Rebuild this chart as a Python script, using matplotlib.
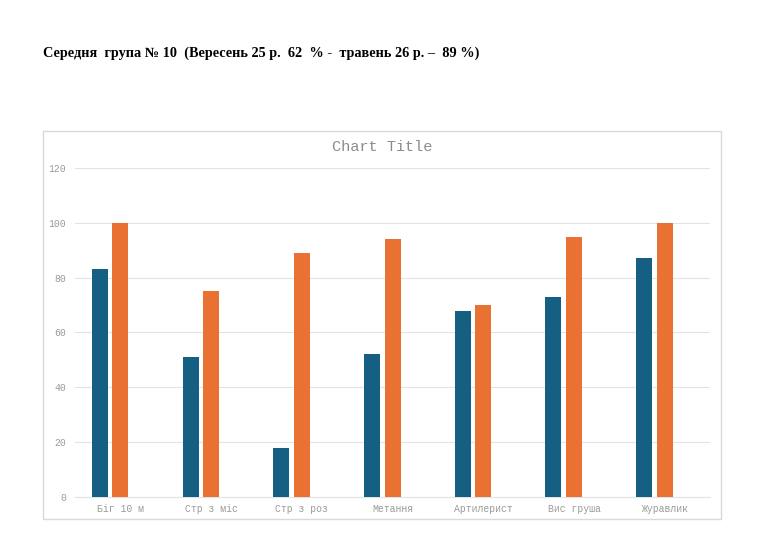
import matplotlib
matplotlib.use('Agg')
import matplotlib.pyplot as plt
import numpy as np
from matplotlib.patches import Rectangle

categories = ['Біг 10 м', 'Стр з міс', 'Стр з роз', 'Метання',
              'Артилерист', 'Вис груша', 'Журавлик']
september = [83, 51, 18, 52, 68, 73, 87]
may = [100, 75, 89, 94, 70, 95, 100]
yticks = [0, 20, 40, 60, 80, 100, 120]

heading = 'Середня  група № 10  (Вересень 25 р.  62  % -  травень 26 р. –  89 %)'

fig = plt.figure(figsize=(7.68, 5.58), dpi=100)

# chart frame
fig.patches.append(Rectangle((0.056, 0.070), 0.883, 0.695, transform=fig.transFigure,
                             fill=False, edgecolor='#d9d9d9', linewidth=1.0))

fig.text(0.056, 0.905, heading, family='Liberation Serif', fontweight='bold',
         fontsize=10.25, va='center', ha='left')

ax = fig.add_axes([0.0977, 0.1093, 0.8268, 0.5897])
x = np.arange(len(categories))
w = 0.176
step = 0.226
ax.bar(x - step, september, width=w, color='#156082', zorder=3)
ax.bar(x, may, width=w, color='#E97132', zorder=3)

ax.set_xlim(-0.5, len(categories) - 0.5)
ax.set_ylim(0, 120)
ax.set_yticks(yticks)
ax.set_xticks(x)
ax.set_xticklabels(categories)
ax.grid(axis='y', color='#e3e3e3', linewidth=0.8, zorder=0)
for s in ['top', 'right', 'left']:
    ax.spines[s].set_visible(False)
ax.spines['bottom'].set_color('#e3e3e3')
ax.tick_params(length=0, colors='#9a9a9a', labelsize=7)
ax.tick_params(axis='y', pad=6.5)
ax.tick_params(axis='x', pad=5)
for lbl in ax.get_xticklabels() + ax.get_yticklabels():
    lbl.set_family('Liberation Mono')

fig.text(0.497, 0.736, 'Chart Title', family='Liberation Mono', fontsize=11,
         color='#8c8c8c', ha='center', va='center')

fig.savefig('out.png', dpi=100)
